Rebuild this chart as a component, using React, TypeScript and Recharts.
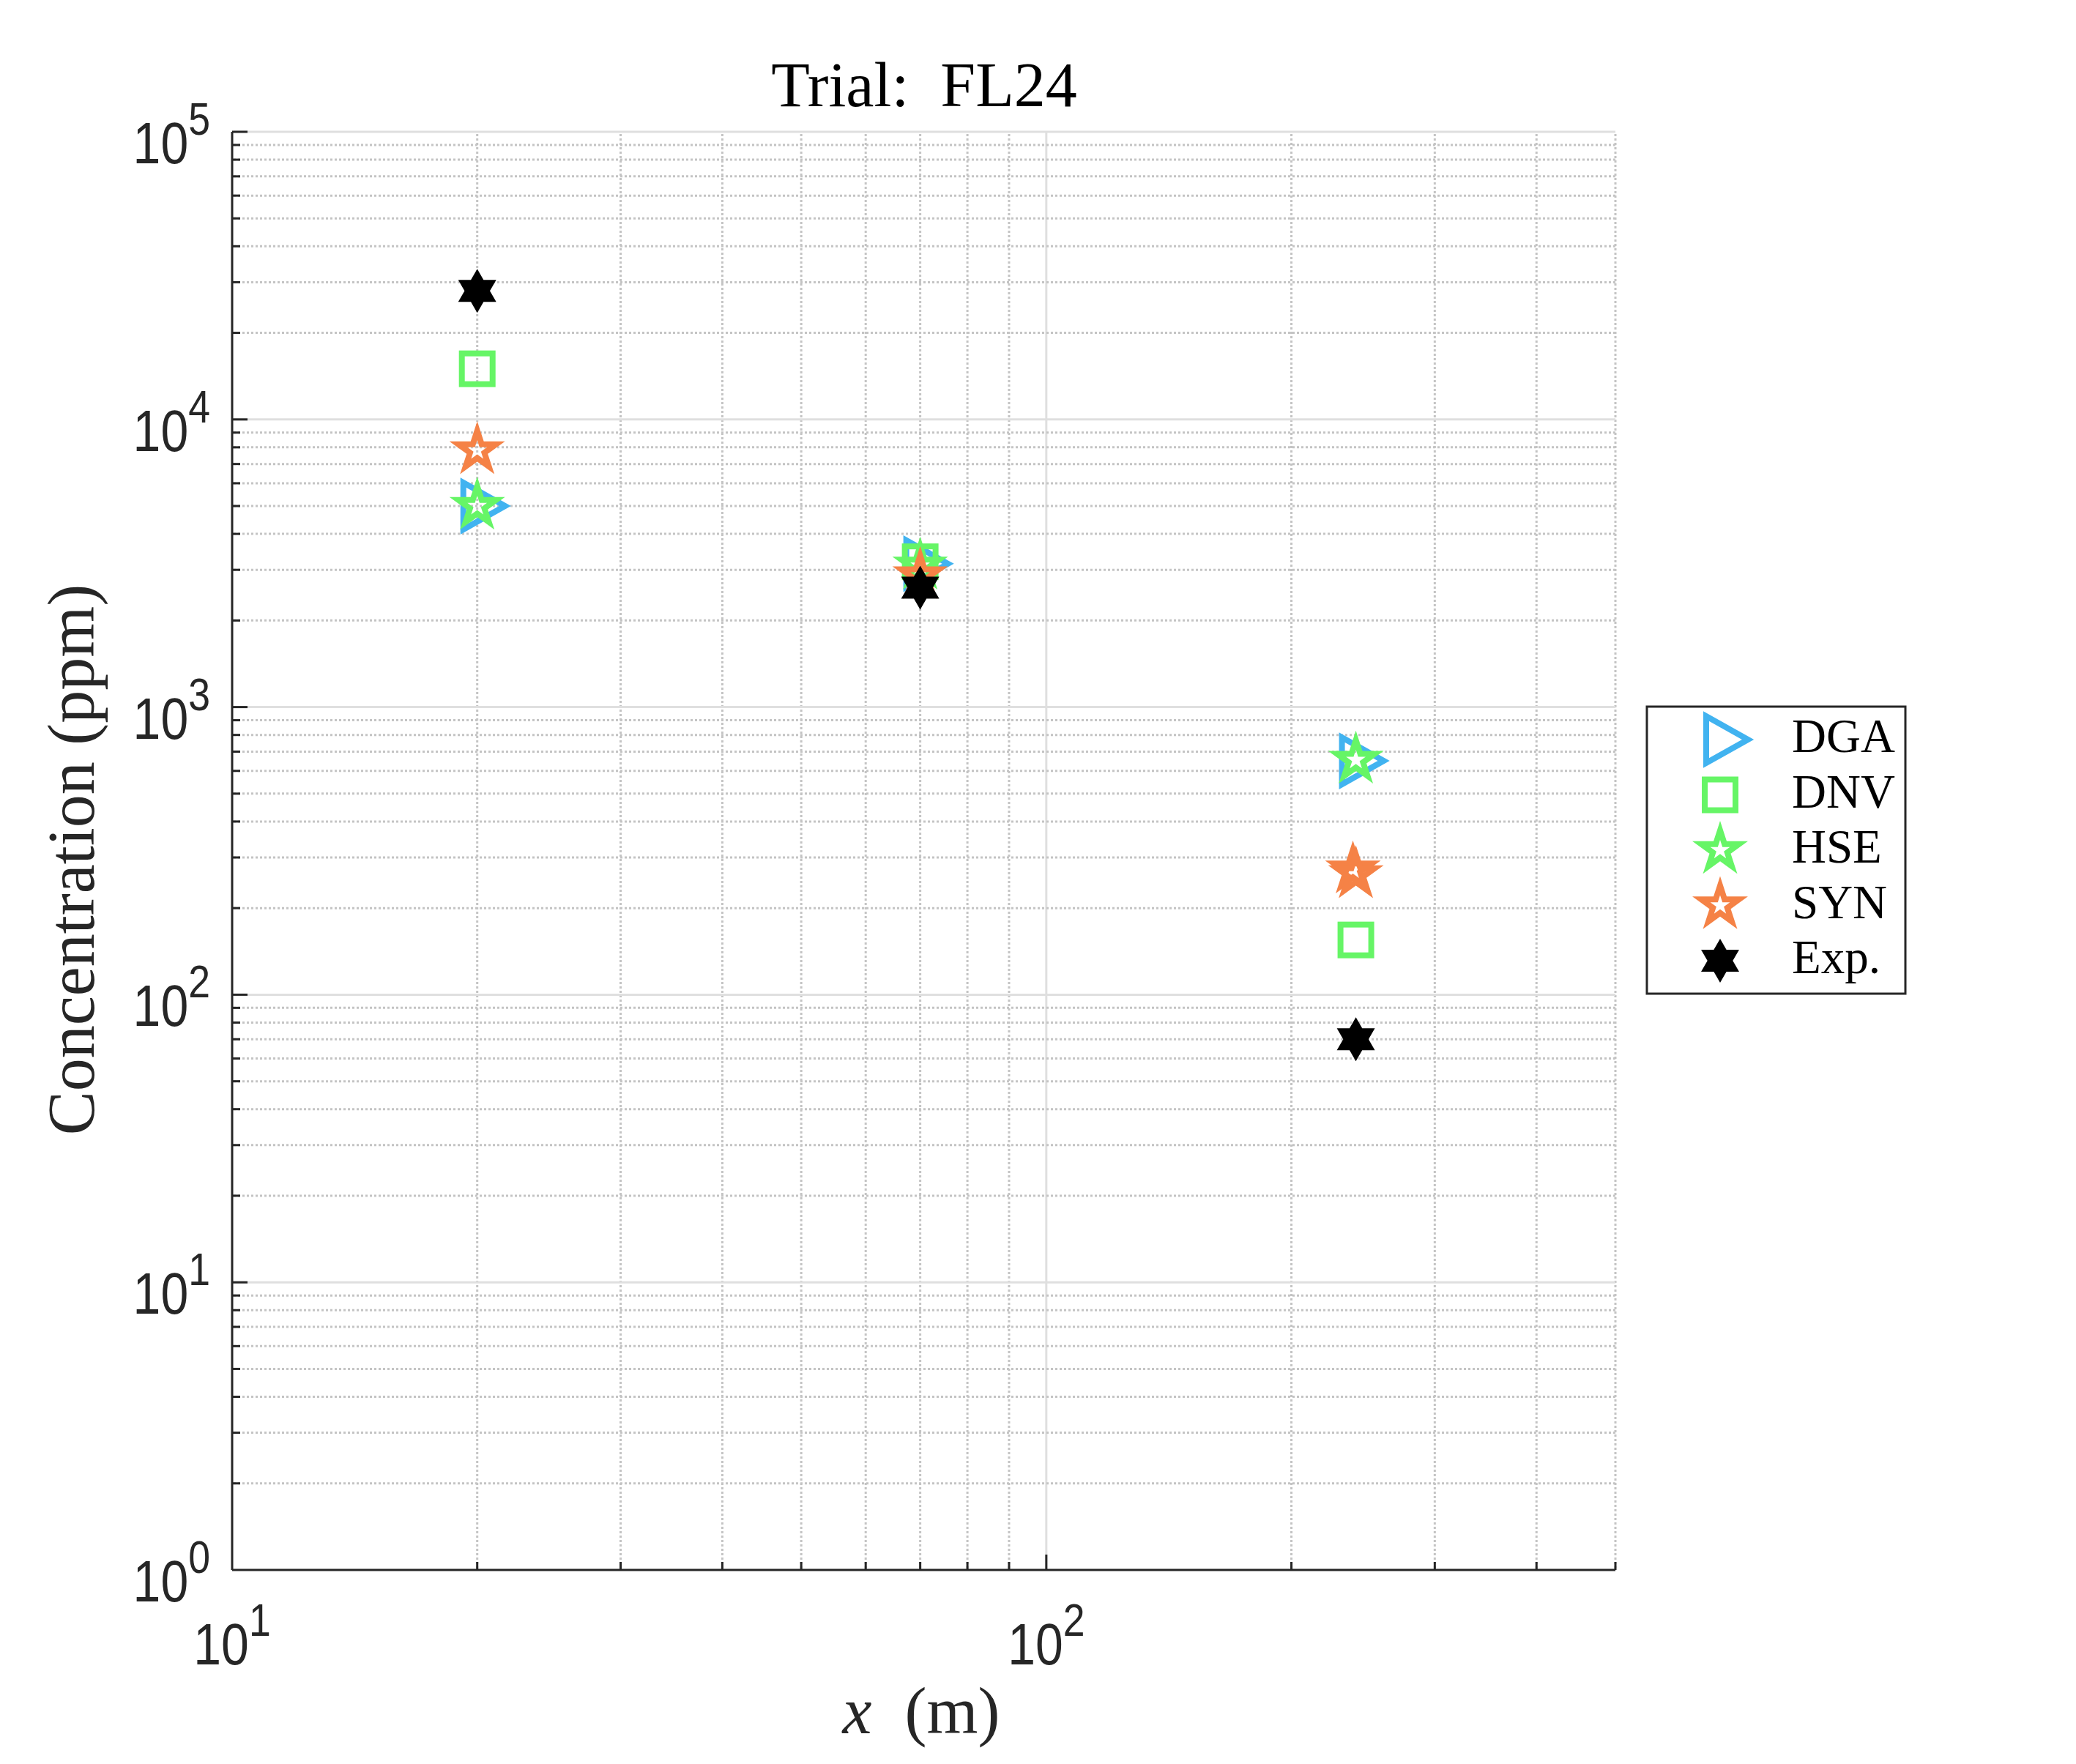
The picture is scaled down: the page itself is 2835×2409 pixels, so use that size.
import React from 'react';
import { ScatterChart, Scatter, XAxis, YAxis } from 'recharts';

// readings taken off the reference figure (Trial FL24)
const distances = [20, 70, 240];
const dgaValues = [5000, 3150, 650];
const dnvValues = [15000, 3200, 155];
const hseValues = [5000, 3100, 655];
const synDistances = [20, 70, 238, 240];
const synValues = [7800, 2870, 272, 262];
const expValues = [28000, 2600, 70];

const seriesNames = ['DGA', 'DNV', 'HSE', 'SYN', 'Exp.'];

const xDomain = [10, 500];
const xTicks = [10, 20, 30, 40, 50, 60, 70, 80, 90, 100, 200, 300, 400, 500];
const xMajorTicks = [10, 100];
const yDomain = [1, 100000];
const yMajorTicks = [1, 10, 100, 1000, 10000, 100000];
const yMinorSteps = [2, 3, 4, 5, 6, 7, 8, 9];
const yTicks = [
  ...yMajorTicks.slice(0, -1).flatMap((d) => [d, ...yMinorSteps.map((s) => s * d)]),
  yMajorTicks[yMajorTicks.length - 1],
];

const W = 2835;
const H = 2409;
const PLOT_LEFT = 317;
const PLOT_TOP = 180;
const PLOT_RIGHT = 2206;
const PLOT_BOTTOM = 2144;
const PLOT_W = PLOT_RIGHT - PLOT_LEFT;
const PLOT_H = PLOT_BOTTOM - PLOT_TOP;
const Y_AXIS_W = 100;
const X_AXIS_H = 100;

const AXIS_COLOR = '#262626';
const MAJOR_GRID = '#dfdfdf';
const MINOR_GRID = '#c4c4c4';
const BLUE = '#41b3f0';
const GREEN = '#66f566';
const ORANGE = '#f58246';

const SANS = '"Liberation Sans", Arial, Helvetica, sans-serif';
const SERIF = '"Liberation Serif", "Times New Roman", serif';

const toPoints = (xs: number[], ys: number[]) => xs.map((x, i) => ({ x, y: ys[i] }));

const starPoints = (cx: number, cy: number, n: number, outer: number, inner: number) => {
  const pts: string[] = [];
  for (let i = 0; i < n * 2; i++) {
    const a = (-90 + (i * 180) / n) * (Math.PI / 180);
    const r = i % 2 === 0 ? outer : inner;
    pts.push(`${cx + r * Math.cos(a)},${cy + r * Math.sin(a)}`);
  }
  return pts.join(' ');
};

const Marker = ({ kind, color, cx, cy }: { kind: string; color: string; cx: number; cy: number }) => {
  if (kind === 'triangle') {
    // '>' marker, centred on its centroid
    const pts = `${cx + 38},${cy} ${cx - 19},${cy - 32} ${cx - 19},${cy + 32}`;
    return <polygon points={pts} fill="none" stroke={color} strokeWidth={8} strokeLinejoin="miter" />;
  }
  if (kind === 'square') {
    return <rect x={cx - 21} y={cy - 21} width={42} height={42} fill="none" stroke={color} strokeWidth={8} />;
  }
  if (kind === 'pentagram') {
    return (
      <polygon
        points={starPoints(cx, cy, 5, 27, 27 * 0.382)}
        fill="none"
        stroke={color}
        strokeWidth={8}
        strokeLinejoin="miter"
        strokeMiterlimit={6}
      />
    );
  }
  return <polygon points={starPoints(cx, cy, 6, 30, 17.3)} fill={color} stroke="none" />;
};

const markerKinds = ['triangle', 'square', 'pentagram', 'pentagram', 'hexagram'];
const markerColors = [BLUE, GREEN, GREEN, ORANGE, '#000000'];

const shapeFor = (idx: number) => (props: any) =>
  <Marker kind={markerKinds[idx]} color={markerColors[idx]} cx={props.cx} cy={props.cy} />;

const emptyShape = () => <g />;

const PowerLabel = ({ exp }: { exp: number }) => (
  <>
    <tspan>10</tspan>
    <tspan dy={-39} fontSize={63}>{exp}</tspan>
  </>
);

const XTick = (props: any) => {
  const { x, y, payload } = props;
  const v = payload.value;
  const major = xMajorTicks.includes(v);
  const atEdge = v === xDomain[0];
  return (
    <g>
      {!atEdge && (
        <line
          x1={x}
          x2={x}
          y1={y - 2}
          y2={y - PLOT_H}
          stroke={major ? MAJOR_GRID : MINOR_GRID}
          strokeWidth={3}
          strokeDasharray={major ? undefined : '3 3'}
        />
      )}
      {!atEdge && <line x1={x} x2={x} y1={y} y2={y - (major ? 21 : 11)} stroke={AXIS_COLOR} strokeWidth={3} />}
      {major && (
        <g transform={`translate(${x},${y + 129}) scale(0.85,1)`}>
          <text x={0} y={0} textAnchor="middle" fontFamily={SANS} fontSize={80} fill={AXIS_COLOR}>
            <PowerLabel exp={Math.round(Math.log10(v))} />
          </text>
        </g>
      )}
    </g>
  );
};

const YTick = (props: any) => {
  const { x, y, payload } = props;
  const v = payload.value;
  const major = yMajorTicks.includes(v);
  const atEdge = v === yDomain[0];
  return (
    <g>
      {!atEdge && (
        <line
          x1={x + 2}
          x2={x + PLOT_W}
          y1={y}
          y2={y}
          stroke={major ? MAJOR_GRID : MINOR_GRID}
          strokeWidth={3}
          strokeDasharray={major ? undefined : '3 3'}
        />
      )}
      {!atEdge && <line x1={x} x2={x + (major ? 21 : 11)} y1={y} y2={y} stroke={AXIS_COLOR} strokeWidth={3} />}
      {major && (
        <g transform={`translate(${x - 30},${y + 43}) scale(0.85,1)`}>
          <text x={0} y={0} textAnchor="end" fontFamily={SANS} fontSize={80} fill={AXIS_COLOR}>
            <PowerLabel exp={Math.round(Math.log10(v))} />
          </text>
        </g>
      )}
    </g>
  );
};

const LEGEND_X = 2249;
const LEGEND_Y = 965;
const LEGEND_W = 353;
const LEGEND_H = 392;
const LEGEND_ROW0 = 1010;
const LEGEND_ROW_GAP = 75.5;

const Overlay = () => (
  <svg
    width={W}
    height={H}
    style={{ position: 'absolute', left: 0, top: 0, pointerEvents: 'none' }}
  >
    <text x={1262} y={145} textAnchor="middle" fontFamily={SERIF} fontSize={86} fill="#000">
      {'Trial:\u2002FL24'}
    </text>
    <text x={1258} y={2367} textAnchor="middle" fontFamily={SERIF} fontSize={90} fill={AXIS_COLOR}>
      <tspan fontStyle="italic">x</tspan>
      <tspan>{'\u2002(m)'}</tspan>
    </text>
    <text
      transform={`translate(128,1174) rotate(-90)`}
      textAnchor="middle"
      fontFamily={SERIF}
      fontSize={90}
      fill={AXIS_COLOR}
    >
      Concentration (ppm)
    </text>
    <rect x={LEGEND_X} y={LEGEND_Y} width={LEGEND_W} height={LEGEND_H} fill="#fff" stroke={AXIS_COLOR} strokeWidth={3} />
    {seriesNames.map((name, i) => {
      const cy = LEGEND_ROW0 + i * LEGEND_ROW_GAP;
      return (
        <g key={name}>
          <Marker kind={markerKinds[i]} color={markerColors[i]} cx={2349} cy={cy} />
          <text x={2447} y={cy + 17} fontFamily={SERIF} fontSize={65} fill="#000">
            {name}
          </text>
        </g>
      );
    })}
  </svg>
);

const App: React.FC = () => {
  const seriesData = [
    toPoints(distances, dgaValues),
    toPoints(distances, dnvValues),
    toPoints(distances, hseValues),
    toPoints(synDistances, synValues),
    toPoints(distances, expValues),
  ];

  return (
    <div style={{ position: 'absolute', left: 0, top: 0, width: W, height: H, background: '#fff' }}>
      {/* axes, ticks and grid */}
      <div style={{ position: 'absolute', left: 0, top: 0 }}>
        <ScatterChart
          width={W}
          height={H}
          margin={{
            top: PLOT_TOP,
            right: W - PLOT_RIGHT,
            bottom: H - PLOT_BOTTOM - X_AXIS_H,
            left: PLOT_LEFT - Y_AXIS_W,
          }}
        >
          <XAxis
            type="number"
            dataKey="x"
            scale="log"
            domain={xDomain}
            allowDataOverflow
            ticks={xTicks}
            interval={0}
            height={X_AXIS_H}
            tickSize={0}
            tickMargin={0}
            tickLine={false}
            axisLine={{ stroke: AXIS_COLOR, strokeWidth: 3 }}
            tick={(p: any) => <XTick {...p} />}
          />
          <YAxis
            type="number"
            dataKey="y"
            scale="log"
            domain={yDomain}
            allowDataOverflow
            ticks={yTicks}
            interval={0}
            width={Y_AXIS_W}
            tickSize={0}
            tickMargin={0}
            tickLine={false}
            axisLine={{ stroke: AXIS_COLOR, strokeWidth: 3 }}
            tick={(p: any) => <YTick {...p} />}
          />
          {seriesData.map((data, i) => (
            <Scatter key={seriesNames[i]} data={data} shape={emptyShape} isAnimationActive={false} />
          ))}
        </ScatterChart>
      </div>
      {/* markers, drawn above the grid */}
      <div style={{ position: 'absolute', left: 0, top: 0 }}>
        <ScatterChart
          width={W}
          height={H}
          margin={{
            top: PLOT_TOP,
            right: W - PLOT_RIGHT,
            bottom: H - PLOT_BOTTOM,
            left: PLOT_LEFT,
          }}
        >
          <XAxis type="number" dataKey="x" scale="log" domain={xDomain} allowDataOverflow hide />
          <YAxis type="number" dataKey="y" scale="log" domain={yDomain} allowDataOverflow hide />
          {seriesData.map((data, i) => (
            <Scatter
              key={seriesNames[i]}
              name={seriesNames[i]}
              data={data}
              shape={shapeFor(i)}
              isAnimationActive={false}
            />
          ))}
        </ScatterChart>
      </div>
      <Overlay />
    </div>
  );
};

export default App;
